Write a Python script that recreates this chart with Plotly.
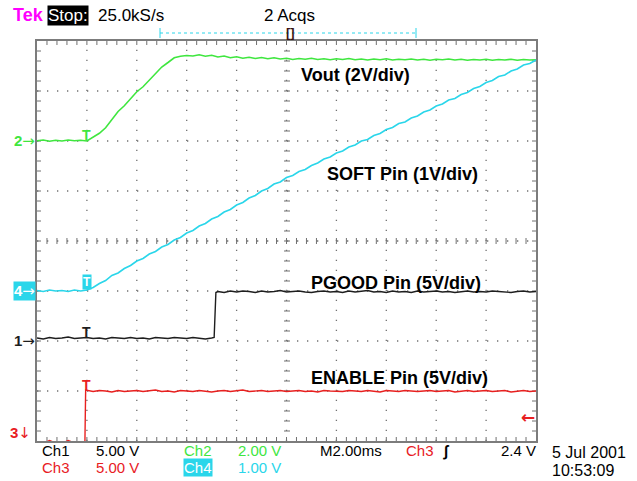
import plotly.graph_objects as go

# ---------------- data ----------------
time_ms = [
    -2.0, -1.75, -1.5, -1.25, -1.0, -0.75, -0.5, -0.25,
    0.0, 0.25, 0.5, 0.75, 1.0, 1.25, 1.5, 1.75,
    2.0, 2.25, 2.5, 2.75, 3.0, 3.25, 3.5, 3.75,
    4.0, 4.25, 4.5, 4.75, 5.0, 5.25, 5.5, 5.75,
    6.0, 6.25, 6.5, 6.75, 7.0, 7.25, 7.5, 7.75,
    8.0, 8.25, 8.5, 8.75, 9.0, 9.25, 9.5, 9.75,
    10.0, 10.25, 10.5, 10.75, 11.0, 11.25, 11.5, 11.75,
    12.0, 12.25, 12.5, 12.75, 13.0, 13.25, 13.5, 13.75,
    14.0, 14.25, 14.5, 14.75, 15.0, 15.25, 15.5, 15.75,
    16.0, 16.25, 16.5, 16.75, 17.0, 17.25, 17.5, 17.75,
    18.0,
]

vout_v = [
    0.01, 0.04, -0.01, 0.03, 0.00, 0.04, 0.01, 0.03,
    0.00, 0.14, 0.31, 0.53, 0.85, 1.18, 1.41, 1.71,
    1.97, 2.17, 2.43, 2.69, 2.96, 3.14, 3.33, 3.39,
    3.42, 3.40, 3.45, 3.39, 3.43, 3.36, 3.40, 3.33,
    3.37, 3.31, 3.35, 3.30, 3.34, 3.29, 3.33, 3.28,
    3.31, 3.26, 3.30, 3.27, 3.31, 3.26, 3.29, 3.25,
    3.29, 3.26, 3.30, 3.25, 3.28, 3.24, 3.28, 3.25,
    3.29, 3.24, 3.27, 3.25, 3.28, 3.24, 3.27, 3.23,
    3.27, 3.25, 3.28, 3.24, 3.27, 3.23, 3.26, 3.24,
    3.27, 3.23, 3.26, 3.24, 3.27, 3.23, 3.26, 3.24,
    3.25,
]

soft_v = [
    0.01, -0.01, 0.02, 0.00, 0.01, -0.01, 0.02, 0.00,
    0.02, 0.07, 0.15, 0.21, 0.31, 0.36, 0.45, 0.51,
    0.60, 0.65, 0.74, 0.79, 0.88, 0.93, 1.02, 1.07,
    1.16, 1.21, 1.30, 1.35, 1.44, 1.49, 1.58, 1.63,
    1.72, 1.77, 1.86, 1.91, 2.00, 2.05, 2.14, 2.18,
    2.27, 2.31, 2.39, 2.43, 2.51, 2.56, 2.64, 2.68,
    2.76, 2.80, 2.88, 2.92, 3.00, 3.03, 3.11, 3.15,
    3.23, 3.27, 3.35, 3.38, 3.46, 3.50, 3.58, 3.62,
    3.70, 3.74, 3.82, 3.85, 3.93, 3.97, 4.05, 4.09,
    4.17, 4.21, 4.29, 4.32, 4.40, 4.44, 4.52, 4.55,
    4.62,
]

pgood_time_ms = [
    -2.0, -1.75, -1.5, -1.25, -1.0, -0.75, -0.5, -0.25,
    0.0, 0.25, 0.5, 0.75, 1.0, 1.25, 1.5, 1.75,
    2.0, 2.25, 2.5, 2.75, 3.0, 3.25, 3.5, 3.75,
    4.0, 4.25, 4.5, 4.75, 5.0, 5.1, 5.17, 5.25, 5.5, 5.75,
    6.0, 6.25, 6.5, 6.75, 7.0, 7.25, 7.5, 7.75,
    8.0, 8.25, 8.5, 8.75, 9.0, 9.25, 9.5, 9.75,
    10.0, 10.25, 10.5, 10.75, 11.0, 11.25, 11.5, 11.75,
    12.0, 12.25, 12.5, 12.75, 13.0, 13.25, 13.5, 13.75,
    14.0, 14.25, 14.5, 14.75, 15.0, 15.25, 15.5, 15.75,
    16.0, 16.25, 16.5, 16.75, 17.0, 17.25, 17.5, 17.75,
    18.0,
]

pgood_v = [
    0.30, 0.20, 0.35, 0.25, 0.30, 0.40, 0.25, 0.30,
    0.35, 0.25, 0.30, 0.20, 0.35, 0.30, 0.25, 0.35,
    0.25, 0.30, 0.20, 0.35, 0.30, 0.25, 0.35, 0.30,
    0.25, 0.35, 0.30, 0.20, 0.30, 0.35, 4.85, 4.95, 4.85, 5.00,
    4.90, 5.00, 4.95, 4.85, 5.00, 4.90, 4.95, 5.05,
    4.90, 4.95, 5.00, 4.90, 4.85, 4.95, 5.00, 4.90,
    4.95, 4.85, 5.00, 4.90, 4.95, 5.05, 4.90, 4.95,
    4.85, 5.00, 4.90, 4.95, 4.85, 5.00, 4.90, 4.95,
    5.00, 4.90, 4.95, 4.85, 4.95, 5.00, 4.90, 4.95,
    4.90, 5.00, 4.95, 4.90, 4.85, 4.95, 5.00, 4.90,
    4.95,
]

enable_time_ms = [
    -2.0, -1.75, -1.5, -1.25, -1.0, -0.75, -0.5, -0.25,
    -0.08, -0.05, 0.25, 0.5, 0.75, 1.0, 1.25, 1.5, 1.75,
    2.0, 2.25, 2.5, 2.75, 3.0, 3.25, 3.5, 3.75,
    4.0, 4.25, 4.5, 4.75, 5.0, 5.25, 5.5, 5.75,
    6.0, 6.25, 6.5, 6.75, 7.0, 7.25, 7.5, 7.75,
    8.0, 8.25, 8.5, 8.75, 9.0, 9.25, 9.5, 9.75,
    10.0, 10.25, 10.5, 10.75, 11.0, 11.25, 11.5, 11.75,
    12.0, 12.25, 12.5, 12.75, 13.0, 13.25, 13.5, 13.75,
    14.0, 14.25, 14.5, 14.75, 15.0, 15.25, 15.5, 15.75,
    16.0, 16.25, 16.5, 16.75, 17.0, 17.25, 17.5, 17.75,
    18.0,
]

enable_v = [
    -0.20, -0.25, 0.05, -0.20, -0.25, 0.05, -0.20, -0.25,
    -0.20, 5.10, 4.95, 5.05, 5.00, 4.90, 5.05, 4.95, 5.00,
    5.05, 4.95, 5.00, 5.10, 4.95, 5.00, 4.90, 5.05,
    5.00, 4.95, 5.05, 5.00, 4.90, 5.00, 5.05, 4.95,
    5.00, 5.10, 4.95, 5.00, 5.05, 4.95, 5.00, 5.05,
    4.95, 5.00, 5.05, 4.95, 5.00, 4.90, 5.05, 5.00,
    5.00, 4.95, 5.05, 5.00, 4.95, 5.05, 5.00, 4.90,
    5.05, 5.00, 4.95, 5.05, 5.00, 4.95, 5.00, 5.05,
    4.95, 5.00, 5.05, 4.90, 5.00, 5.05, 4.95, 5.00,
    5.05, 4.95, 5.00, 5.05, 4.90, 5.00, 5.05, 4.95,
    5.00,
]

# channel settings: volts/div and ground position (divisions from bottom)
ch_names = ["Ch1", "Ch2", "Ch3", "Ch4"]
ch_volts_per_div = [5.0, 2.0, 5.0, 1.0]
ch_ground_div = [2.0, 6.0, 0.0, 3.0]
trigger_level_v = 2.4
n_div_x = 10
n_div_y = 8
x_range_ms = [-2.0, 18.0]

trace_labels = ["Vout (2V/div)", "SOFT Pin (1V/div)", "PGOOD Pin (5V/div)", "ENABLE Pin (5V/div)"]

# ---------------- styling ----------------
GREEN = "#3fe63f"
CYAN = "#2ad6ea"
RED = "#e8201f"
BLACK = "#1e1e1e"
MAGENTA = "#ff00ff"
GRID = "#707070"
FONT = "Liberation Sans, Arial, sans-serif"
ARW = "DejaVu Sans, sans-serif"

W, H = 637, 481
L, R, T, B = 37, 536, 41, 441


def px(x):
    return (x - L) / (R - L)


def py(y):
    return (B - y) / (B - T)


def ch_range(i):
    lo = -ch_ground_div[i] * ch_volts_per_div[i]
    return [lo, lo + n_div_y * ch_volts_per_div[i]]


fig = go.Figure()
fig.add_trace(go.Scatter(x=time_ms, y=vout_v, yaxis="y2", mode="lines",
                         line=dict(color=GREEN, width=1.6)))
fig.add_trace(go.Scatter(x=time_ms, y=soft_v, yaxis="y3", mode="lines",
                         line=dict(color=CYAN, width=1.6)))
fig.add_trace(go.Scatter(x=pgood_time_ms, y=pgood_v, yaxis="y4", mode="lines",
                         line=dict(color=BLACK, width=1.4)))
fig.add_trace(go.Scatter(x=enable_time_ms, y=enable_v, yaxis="y5", mode="lines",
                         line=dict(color=RED, width=1.4)))

common = dict(showticklabels=False, zeroline=False, fixedrange=True, showgrid=False,
              ticks="")

fig.update_layout(
    width=W, height=H, autosize=False,
    margin=dict(l=L, r=W - R, t=T, b=H - B, pad=0),
    paper_bgcolor="white", plot_bgcolor="white",
    showlegend=False, hovermode=False,
    font=dict(family=FONT, size=15, color="black"),
    xaxis=dict(range=x_range_ms, showline=True, linecolor="#7c7c7c", linewidth=2,
               mirror=True, **common),
    yaxis=dict(range=[0, n_div_y], showline=True, linecolor="#7c7c7c", linewidth=2,
               mirror=True, **common),
    yaxis2=dict(overlaying="y", range=ch_range(1), visible=False, fixedrange=True),
    yaxis3=dict(overlaying="y", range=ch_range(3), visible=False, fixedrange=True),
    yaxis4=dict(overlaying="y", range=ch_range(0), visible=False, fixedrange=True),
    yaxis5=dict(overlaying="y", range=ch_range(2), visible=False, fixedrange=True),
)

# ---------------- graticule (layout shapes) ----------------
shapes = []
tick_line = dict(color=GRID, width=1)
dot_line = dict(color=GRID, width=1.3, dash="1.3px,8.7px")
n_minor = 5
for k in range(1, n_div_x):
    f = k / n_div_x
    shapes.append(dict(type="line", xref="paper", yref="paper", x0=f, x1=f, y0=0, y1=1,
                       line=dot_line, layer="below"))
for k in range(1, n_div_y):
    f = k / n_div_y
    shapes.append(dict(type="line", xref="paper", yref="paper", x0=0, x1=1, y0=f, y1=f,
                       line=dot_line, layer="below"))
tk = 4  # px
for k in range(1, n_div_x * n_minor):
    f = k / (n_div_x * n_minor)
    for y0, y1 in [(0, py(B - tk)), (1, py(T + tk)), (py(244), py(238))]:
        shapes.append(dict(type="line", xref="paper", yref="paper", x0=f, x1=f,
                           y0=y0, y1=y1, line=tick_line, layer="below"))
for k in range(1, n_div_y * n_minor):
    f = k / (n_div_y * n_minor)
    for x0, x1 in [(0, px(L + tk)), (1, px(R - tk)), (px(284), px(290))]:
        shapes.append(dict(type="line", xref="paper", yref="paper", x0=x0, x1=x1,
                           y0=f, y1=f, line=tick_line, layer="below"))

# record bracket in the header
shapes += [
    dict(type="line", xref="paper", yref="paper", x0=px(160), x1=px(416), y0=py(33),
         y1=py(33), line=dict(color=CYAN, width=1, dash="dot")),
    dict(type="line", xref="paper", yref="paper", x0=px(160), x1=px(160), y0=py(28),
         y1=py(38), line=dict(color=CYAN, width=1)),
    dict(type="line", xref="paper", yref="paper", x0=px(416), x1=px(416), y0=py(28),
         y1=py(38), line=dict(color=CYAN, width=1)),
]
fig.update_layout(shapes=shapes)

ann = []


def text(t, x, y, color="black", size=15, xref="paper", yref="paper", xanchor="left",
         yanchor="middle", bg=None, bold=False, family=FONT, **kw):
    d = dict(text=("<b>%s</b>" % t) if bold else t, x=x, y=y, xref=xref, yref=yref,
             xanchor=xanchor, yanchor=yanchor, showarrow=False,
             font=dict(family=family, size=size, color=color), borderpad=0)
    if bg:
        d["bgcolor"] = bg
    d.update(kw)
    ann.append(d)


# header
text("Tek", px(12), py(15), MAGENTA, 18, bold=True)
text("Stop:", px(47), py(15), "white", 17, bg="black")
text("25.0kS/s", px(97), py(15), "black", 17)
text("2 Acqs", px(263), py(15), "black", 17)
text("[]", px(285), py(33), "#3a1414", 13, bold=True)

# footer
row1, row2 = py(451), py(468)
fs = 15
text(ch_names[0], px(41), row1, "black", fs)
text("5.00 V", px(95), row1, "black", fs)
text(ch_names[1], px(183), row1, GREEN, fs)
text("2.00 V", px(237), row1, GREEN, fs)
text("M2.00ms", px(319), row1, "black", fs)
text(ch_names[2], px(405), row1, RED, fs)
text("<b>∫</b>", px(442), row1, "black", fs)
text("%.1f V" % trigger_level_v, px(500), row1, "black", fs)
text(ch_names[2], px(41), row2, RED, fs)
text("5.00 V", px(95), row2, RED, fs)
text(ch_names[3], px(183), row2, "white", fs, bg=CYAN)
text("1.00 V", px(237), row2, CYAN, fs)
text("5 Jul 2001", px(551), py(452), "black", 16)
text("10:53:09", px(551), py(470), "black", 16)

# trace labels (in screen divisions)
text(trace_labels[0], 8.56, 7.32, "black", 18, xref="x", yref="y", bold=True)
text(trace_labels[1], 9.6, 5.35, "black", 18, xref="x", yref="y", bold=True)
text(trace_labels[2], 8.96, 3.16, "black", 18, xref="x", yref="y", bold=True)
text(trace_labels[3], 8.96, 1.26, "black", 18, xref="x", yref="y", bold=True)

# ground markers on the left
text("<b>2</b><span style='font-family:DejaVu Sans'>→</span>", 0, 0, GREEN, 15,
     yref="y2", xanchor="right", xshift=-1)
text("<b>4</b><span style='font-family:DejaVu Sans'>→</span>", 0, 0, "white", 15,
     yref="y3", xanchor="right", xshift=-1, bg=CYAN)
text("<b>1</b><span style='font-family:DejaVu Sans'>→</span>", 0, 0, BLACK, 15,
     yref="y4", xanchor="right", xshift=-1)
text("<b>3</b><span style='font-family:DejaVu Sans'>↓</span>", 0, 0, RED, 15,
     yref="y5", xanchor="right", xshift=-5, yshift=8)
# trigger level marker on the right
text("<b>←</b>", 1, trigger_level_v, RED, 17, yref="y5", xanchor="right", xshift=0,
     family=ARW)

# trigger-point "T" markers on each trace
text("<b>T</b>", 0, vout_v[8], GREEN, 14, xref="x", yref="y2", xanchor="center",
     yanchor="bottom", yshift=-3)
text("<b>T</b>", 0, soft_v[8], "white", 12, xref="x", yref="y3", xanchor="center",
     yanchor="bottom", bg=CYAN, yshift=0)
text("<b>T</b>", 0, pgood_v[8], BLACK, 14, xref="x", yref="y4", xanchor="center",
     yanchor="bottom", yshift=-3)
text("<b>T</b>", 0, 5.0, RED, 14, xref="x", yref="y5", xanchor="center",
     yanchor="bottom", yshift=-3)

fig.update_layout(annotations=ann)

fig.write_html("out.html", config={"displayModeBar": False},
               post_script="document.body.style.margin='0px';")
